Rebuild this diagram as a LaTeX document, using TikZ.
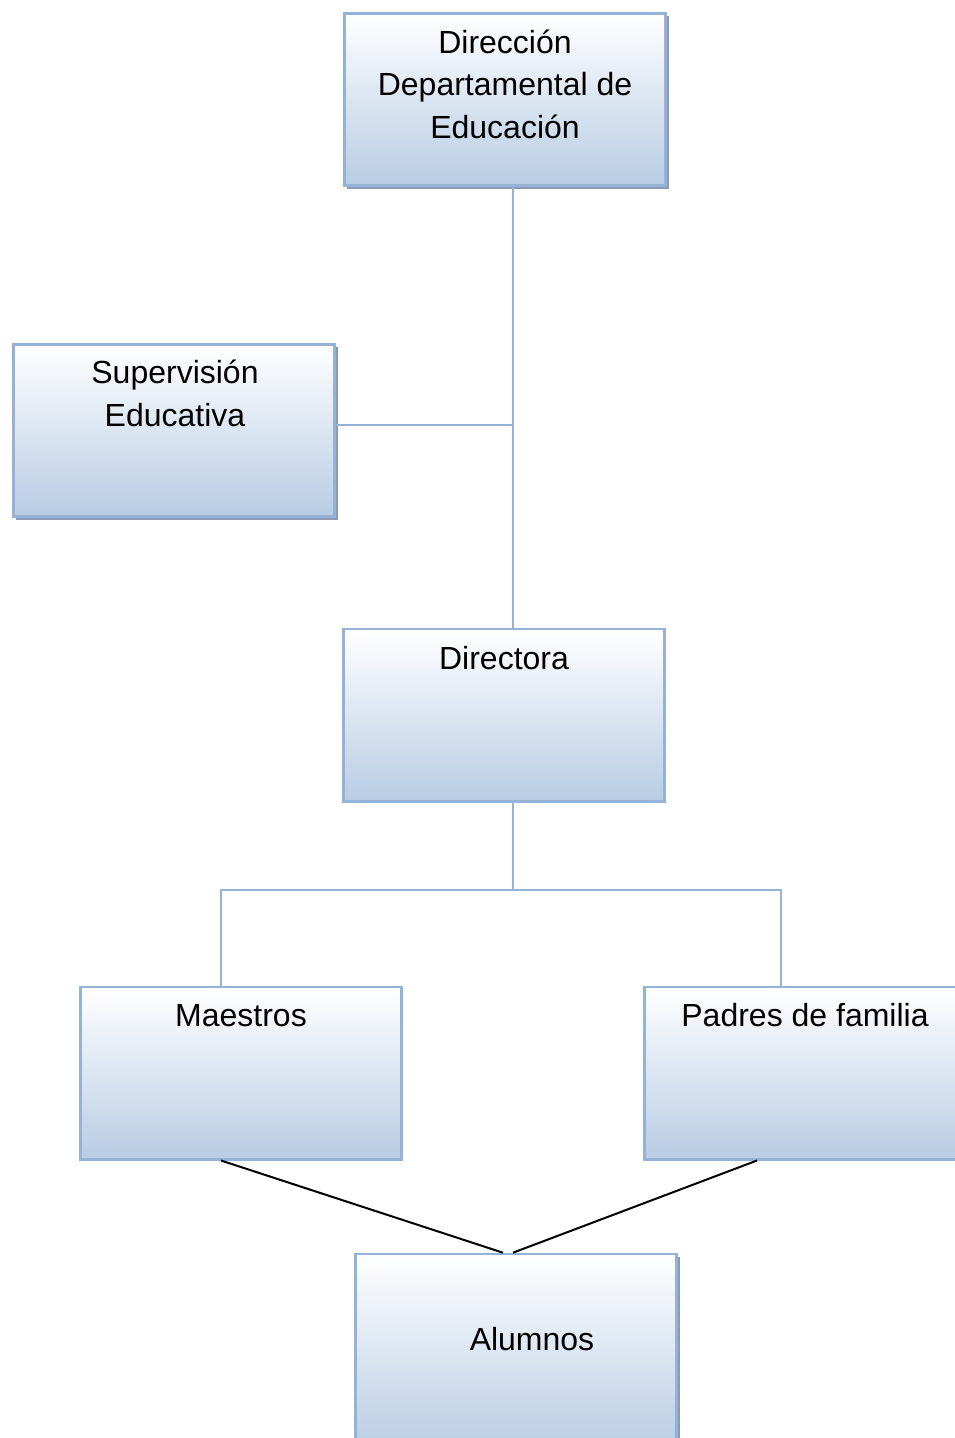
\documentclass[tikz,border=0pt]{standalone}
\usepackage{fontspec}
\setmainfont{Liberation Sans}
\usetikzlibrary{shadows}
\definecolor{boxline}{RGB}{149,179,215}
\definecolor{boxbot}{RGB}{184,204,228}
\definecolor{shade}{RGB}{140,155,178}
\begin{document}
\begin{tikzpicture}[x=1pt,y=-1pt,
  orgbox/.style={draw=boxline,line width=2.6pt,top color=white,bottom color=boxbot,
    minimum width=321.4pt,minimum height=172.4pt,inner sep=0pt},
  shadowed/.style={drop shadow={shadow xshift=3pt,shadow yshift=-3pt,fill=shade,opacity=1}},
  lbl/.style={font=\fontsize{32}{42}\selectfont,anchor=base,inner sep=0pt},
  blueline/.style={draw=boxline,line width=2.4pt},
  blackline/.style={draw=black,line width=2pt}]
\useasboundingbox (0,0) rectangle (955,1438);
% boxes
\node[orgbox,shadowed] (dir) at (505,99.5) {};
\node[orgbox,shadowed] (sup) at (174,430.5) {};
\node[orgbox] (dra) at (504,715) {};
\node[orgbox] (mae) at (241,1073) {};
\node[orgbox] (pad) at (805,1073) {};
\node[orgbox,shadowed,minimum height=198pt] (alu) at (516,1353) {};
% labels
\node[lbl] (t1) at (505,53) {Dirección};
\node[lbl] (t2) at (505,95.5) {Departamental de};
\node[lbl] (t3) at (505,138) {Educación};
\node[lbl] (t4) at (175,383) {Supervisión};
\node[lbl] (t5) at (175,426) {Educativa};
\node[lbl] (t6) at (504,669) {Directora};
\node[lbl] (t7) at (241,1026) {Maestros};
\node[lbl] (t8) at (805,1026) {Padres de familia};
\node[lbl] (t9) at (532,1350) {Alumnos};
% junctions
\coordinate (j1) at (513,425);
\coordinate (j2) at (513,890);
\coordinate (jl) at (221,890);
\coordinate (jr) at (781,890);
\coordinate (ml) at (221,1160);
\coordinate (pr) at (757,1160);
\coordinate (al) at (503,1253);
\coordinate (ar) at (513,1253);
% connectors
\draw[blueline] (dir.south -| j1) -- (dra.north -| j1);
\draw[blueline] (sup.east |- j1) -- (j1);
\draw[blueline] (dra.south -| j2) -- (j2);
\draw[blueline] (jl |- mae.north) -- (jl) -- (jr) -- (jr |- pad.north);
\draw[blackline] (ml |- mae.south) -- (al |- alu.north);
\draw[blackline] (pr |- pad.south) -- (ar |- alu.north);
\end{tikzpicture}
\end{document}
